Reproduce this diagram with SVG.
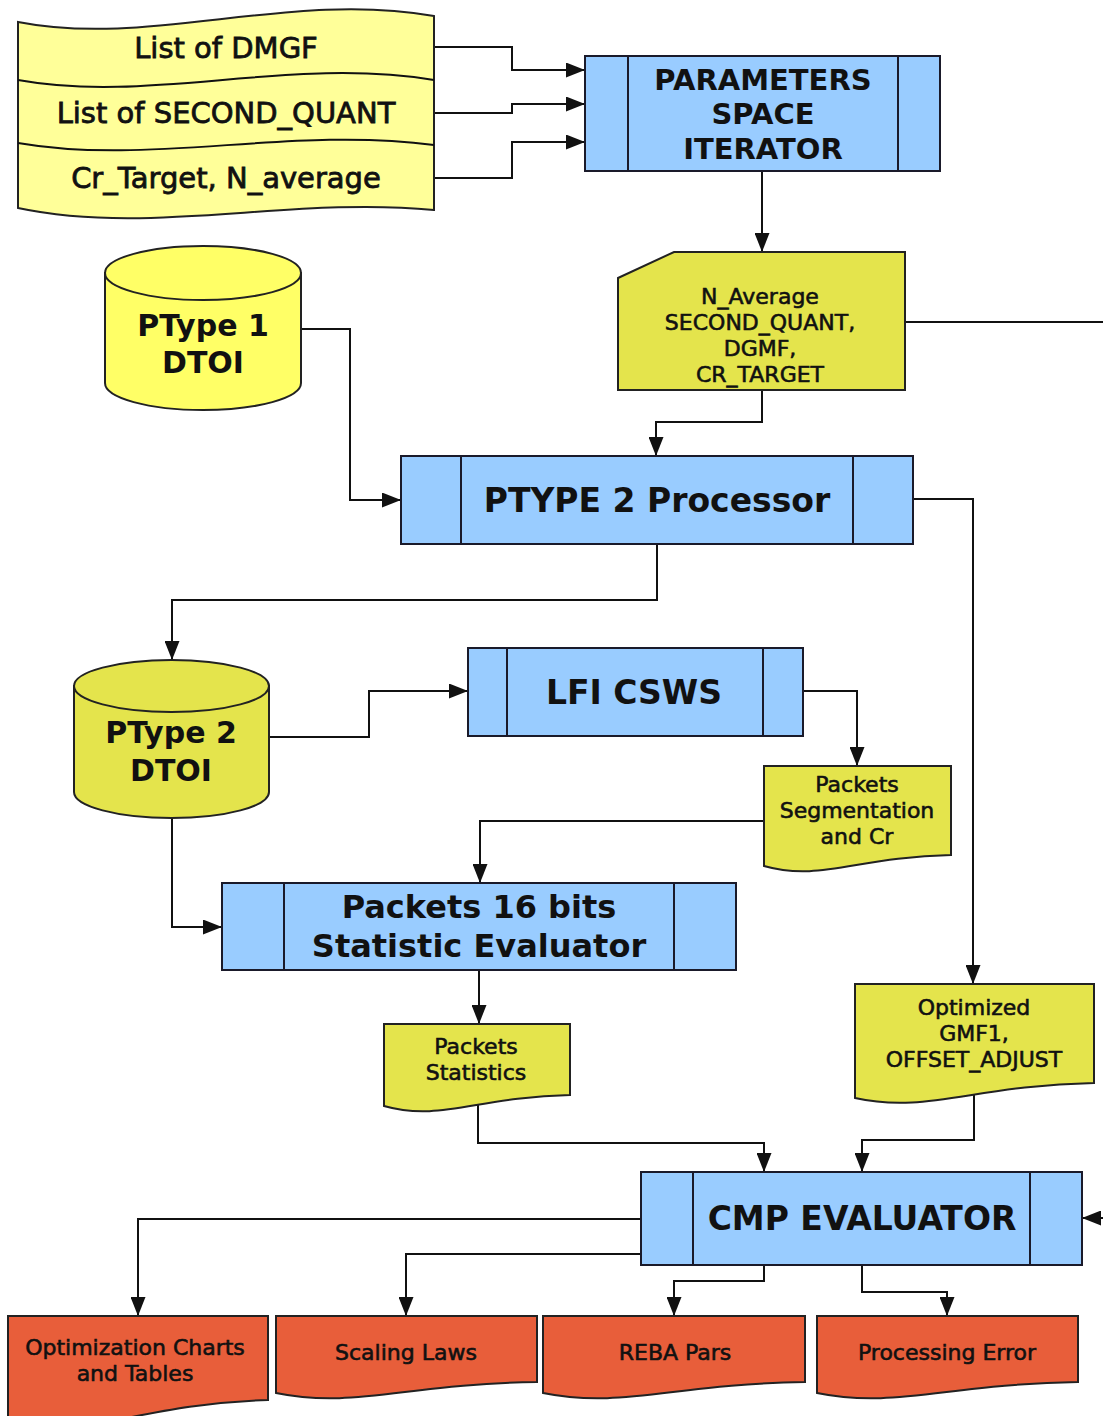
<svg xmlns="http://www.w3.org/2000/svg" width="1103" height="1416" viewBox="0 0 1103 1416">
<style>
.ln{fill:none;stroke:#111;stroke-width:2}
.proc{fill:#99ccff;stroke:#1a1a2a;stroke-width:2}
.pl{stroke:#1a1a2a;stroke-width:2}
.list{fill:#ffff99;stroke:#222;stroke-width:2}
.cyl1{fill:#ffff66;stroke:#222;stroke-width:2}
.cyl2{fill:#e4e44c;stroke:#222;stroke-width:2}
.doc{fill:#e4e44c;stroke:#222;stroke-width:2}
.red{fill:#e85e3a;stroke:#222;stroke-width:2}
text{font-family:"DejaVu Sans","Liberation Sans",sans-serif;fill:#111;text-anchor:middle}
.t1{font-size:29px;stroke:#111;stroke-width:0.8}
.tb{font-size:33px;font-weight:bold}
.tp{font-size:29px;font-weight:bold}
.tc{font-size:30px;font-weight:bold}
.ts{font-size:22px;stroke:#111;stroke-width:0.6}
</style>
<defs>
<marker id="ah" markerWidth="19" markerHeight="15" refX="19" refY="7.5" orient="auto" markerUnits="userSpaceOnUse"><path d="M0,0 L19,7.5 L0,15 Z" fill="#111"/></marker>
</defs>

<g id="connectors">
<path class="ln" d="M434,47 H512 V70 H585" marker-end="url(#ah)"/>
<path class="ln" d="M434,113 H512 V104 H585" marker-end="url(#ah)"/>
<path class="ln" d="M434,178 H512 V142 H585" marker-end="url(#ah)"/>
<path class="ln" d="M762,171 V252" marker-end="url(#ah)"/>
<path class="ln" d="M762,390 V422 H656 V456" marker-end="url(#ah)"/>
<path class="ln" d="M905,322 H1130 V1218 H1082" marker-end="url(#ah)"/>
<path class="ln" d="M302,329 H350 V500 H401" marker-end="url(#ah)"/>
<path class="ln" d="M913,499 H973 V984" marker-end="url(#ah)"/>
<path class="ln" d="M657,544 V600 H172 V660" marker-end="url(#ah)"/>
<path class="ln" d="M269,737 H369 V691 H468" marker-end="url(#ah)"/>
<path class="ln" d="M803,691 H857 V766" marker-end="url(#ah)"/>
<path class="ln" d="M764,821 H480 V883" marker-end="url(#ah)"/>
<path class="ln" d="M172,818 V927 H222" marker-end="url(#ah)"/>
<path class="ln" d="M479,970 V1024" marker-end="url(#ah)"/>
<path class="ln" d="M478,1104 V1143 H764 V1172" marker-end="url(#ah)"/>
<path class="ln" d="M974,1094 V1140 H862 V1172" marker-end="url(#ah)"/>
<path class="ln" d="M641,1219 H138 V1316" marker-end="url(#ah)"/>
<path class="ln" d="M641,1254 H406 V1316" marker-end="url(#ah)"/>
<path class="ln" d="M764,1265 V1281 H674 V1316" marker-end="url(#ah)"/>
<path class="ln" d="M862,1265 V1292 H947 V1316" marker-end="url(#ah)"/>
</g>

<g id="input-lists">
<path class="list" d="M18,22 C150,48 290,-10 434,16 V210 C290,196 150,236 18,208 Z"/>
<path class="ln" d="M18,80 C150,104 290,56 434,80"/>
<path class="ln" d="M18,143 C150,166 290,126 434,145"/>
<text class="t1" x="226" y="58">List of DMGF</text>
<text class="t1" x="226" y="123">List of SECOND_QUANT</text>
<text class="t1" x="226" y="188">Cr_Target, N_average</text>
</g>

<g id="params-iterator">
<rect class="proc" x="585" y="56" width="355" height="115"/>
<line class="pl" x1="628" y1="56" x2="628" y2="171"/>
<line class="pl" x1="898" y1="56" x2="898" y2="171"/>
<text class="tp" x="763" y="90">PARAMETERS</text>
<text class="tp" x="763" y="124">SPACE</text>
<text class="tp" x="763" y="159">ITERATOR</text>
</g>

<g id="n-average">
<path class="doc" d="M618,278 L674,252 H905 V390 H618 Z"/>
<text class="ts" x="760" y="304">N_Average</text>
<text class="ts" x="760" y="330">SECOND_QUANT,</text>
<text class="ts" x="760" y="356">DGMF,</text>
<text class="ts" x="760" y="382">CR_TARGET</text>
</g>

<g id="ptype1-dtoi">
<path class="cyl1" d="M105,273 V383 A98,27 0 0 0 301,383 V273 Z"/>
<ellipse class="cyl1" cx="203" cy="273" rx="98" ry="27"/>
<text class="tc" x="203" y="336">PType 1</text>
<text class="tc" x="203" y="373">DTOI</text>
</g>

<g id="ptype2-processor">
<rect class="proc" x="401" y="456" width="512" height="88"/>
<line class="pl" x1="461" y1="456" x2="461" y2="544"/>
<line class="pl" x1="853" y1="456" x2="853" y2="544"/>
<text class="tb" x="657" y="512">PTYPE 2 Processor</text>
</g>

<g id="ptype2-dtoi">
<path class="cyl2" d="M74,686 V792 A97.5,26 0 0 0 269,792 V686 Z"/>
<ellipse class="cyl2" cx="171.5" cy="686" rx="97.5" ry="26"/>
<text class="tc" x="171" y="743">PType 2</text>
<text class="tc" x="171" y="781">DTOI</text>
</g>

<g id="lfi-csws">
<rect class="proc" x="468" y="648" width="335" height="88"/>
<line class="pl" x1="507" y1="648" x2="507" y2="736"/>
<line class="pl" x1="763" y1="648" x2="763" y2="736"/>
<text class="tb" x="634" y="704">LFI CSWS</text>
</g>

<g id="packets-segmentation">
<path class="doc" d="M764,766 H951 V855 C857,857 820,882 764,866 Z"/>
<text class="ts" x="857" y="792">Packets</text>
<text class="ts" x="857" y="818">Segmentation</text>
<text class="ts" x="857" y="844">and Cr</text>
</g>

<g id="packets-16bits">
<rect class="proc" x="222" y="883" width="514" height="87"/>
<line class="pl" x1="284" y1="883" x2="284" y2="970"/>
<line class="pl" x1="674" y1="883" x2="674" y2="970"/>
<text class="tb" x="479" y="918" style="font-size:32px">Packets 16 bits</text>
<text class="tb" x="479" y="957" style="font-size:32px">Statistic Evaluator</text>
</g>

<g id="packets-statistics">
<path class="doc" d="M384,1024 H570 V1095 C477,1097 440,1122 384,1106 Z"/>
<text class="ts" x="476" y="1054">Packets</text>
<text class="ts" x="476" y="1080">Statistics</text>
</g>

<g id="optimized-gmf1">
<path class="doc" d="M855,984 H1094 V1083 C975,1085 927,1114 855,1098 Z"/>
<text class="ts" x="974" y="1015">Optimized</text>
<text class="ts" x="974" y="1041">GMF1,</text>
<text class="ts" x="974" y="1067">OFFSET_ADJUST</text>
</g>

<g id="cmp-evaluator">
<rect class="proc" x="641" y="1172" width="441" height="93"/>
<line class="pl" x1="693" y1="1172" x2="693" y2="1265"/>
<line class="pl" x1="1030" y1="1172" x2="1030" y2="1265"/>
<text class="tb" x="862" y="1230">CMP EVALUATOR</text>
</g>

<g id="optimization-charts">
<path class="red" d="M8,1316 H268 V1400 C138,1404 86,1440 8,1425 Z"/>
<text class="ts" x="135" y="1355">Optimization Charts</text>
<text class="ts" x="135" y="1381">and Tables</text>
</g>

<g id="scaling-laws">
<path class="red" d="M276,1316 H537 V1382 C406,1384 354,1409 276,1393 Z"/>
<text class="ts" x="406" y="1360">Scaling Laws</text>
</g>

<g id="reba-pars">
<path class="red" d="M543,1316 H805 V1382 C674,1384 622,1409 543,1393 Z"/>
<text class="ts" x="675" y="1360">REBA Pars</text>
</g>

<g id="processing-error">
<path class="red" d="M817,1316 H1078 V1382 C948,1384 895,1409 817,1393 Z"/>
<text class="ts" x="947" y="1360">Processing Error</text>
</g>
</svg>
